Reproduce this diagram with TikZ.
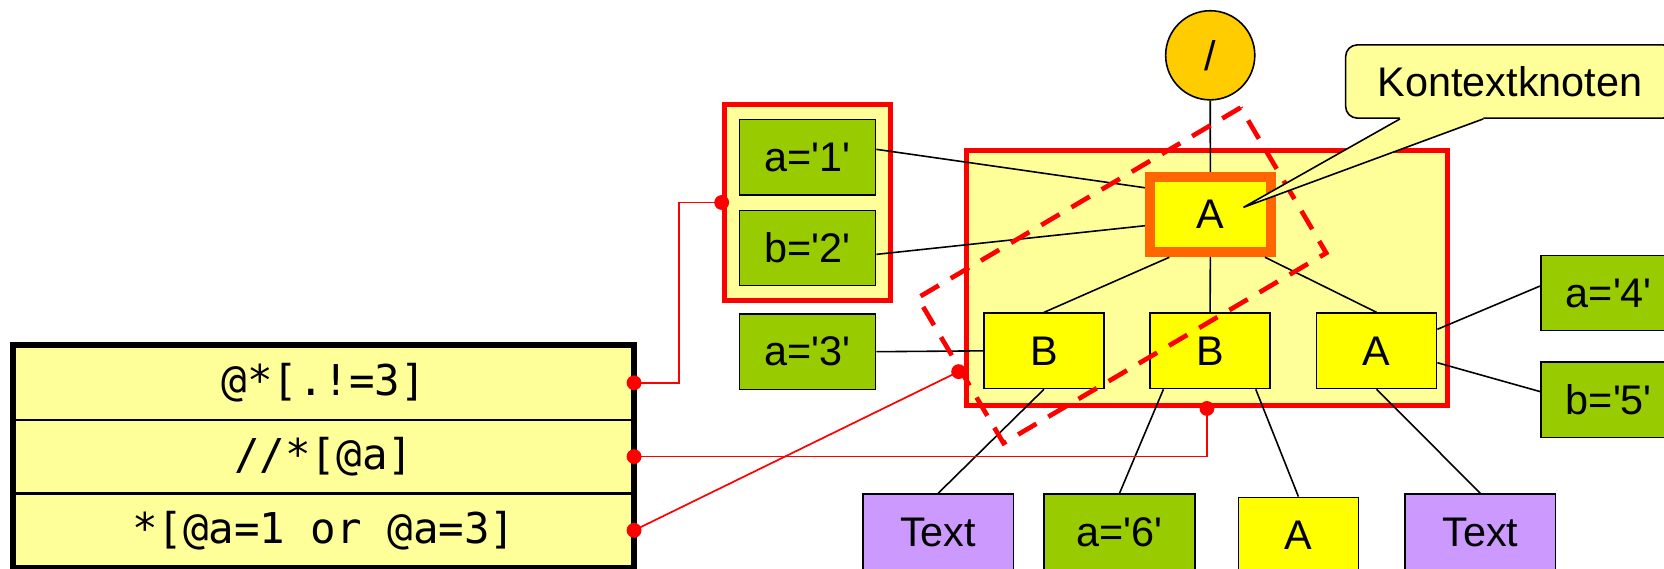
\documentclass[tikz,border=0pt]{standalone}
\usepackage{fontspec}
\newfontfamily\labelfont{Liberation Sans}
\newfontfamily\codefont{DejaVu Sans Mono}
\usepackage{tikz}

\definecolor{paleyellow}{HTML}{FFFF99}
\definecolor{attrgreen}{HTML}{99CC00}
\definecolor{elemyellow}{HTML}{FFFF00}
\definecolor{textlilac}{HTML}{CC99FF}
\definecolor{rootgold}{HTML}{FFCC00}
\definecolor{ctxorange}{HTML}{FF6600}

\begin{document}
\begin{tikzpicture}[x=1pt, y=1pt,
  every node/.style={font=\labelfont\fontsize{39}{47}\selectfont, inner sep=0pt},
  elem/.style={draw, line width=1.5pt, fill=elemyellow, minimum width=113pt, minimum height=71pt},
  attr/.style={draw, line width=1.5pt, fill=attrgreen, minimum width=128pt, minimum height=71pt},
  txt/.style={draw, line width=1.5pt, fill=textlilac, minimum width=142pt, minimum height=72pt},
  hit/.style={draw=red, line width=4.7pt, fill=paleyellow},
  edge/.style={line width=1.5pt},
  link/.style={draw=red, line width=1.6pt},
  query/.style={draw, line width=2pt, fill=paleyellow, minimum width=583pt, minimum height=69.5pt,
    font=\codefont\fontsize{40}{48}\selectfont}]
\def \rowh {69.5}

\useasboundingbox (0,0) rectangle (1568,-536);

% matched areas
\node[hit, minimum width=452.6pt, minimum height=240.7pt] (area) at (1137.3,-262.2) {};
\node[hit, minimum width=157pt, minimum height=184pt] (grp) at (760.9,-190.8) {};

% tree
\node[circle, draw, line width=1.5pt, fill=rootgold, minimum size=84pt] (root) at (1140.4,-52.1) {/};
\node[elem, draw=ctxorange, line width=9.4pt, outer sep=4.7pt, minimum width=114pt] (ctx) at (1140.5,-202.2) {A};
\node[elem] (b1) at (983.7,-330.6) {B};
\node[elem] (b2) at (1140.3,-330.6) {B};
\node[elem] (a2) at (1297.2,-330.6) {A};

\node[attr] (att1) at (761,-148.1) {a='1'};
\node[attr] (att2) at (761,-233.7) {b='2'};
\node[attr] (att3) at (761,-331.4) {a='3'};
\node[attr] (att4) at (1516,-276.1) {a='4'};
\node[attr] (att5) at (1516,-376.6) {b='5'};

\node[txt] (t1) at (884,-501.6) {Text};
\node[attr, minimum width=142pt, minimum height=72pt] (att6) at (1054.9,-501.6) {a='6'};
\node[elem, minimum height=72pt] (a3) at (1223.5,-504.7) {A};
\node[txt] (t2) at (1394.9,-501.6) {Text};

\draw[edge] (root) -- (ctx);
\draw[edge] ([xshift=-38.6pt]ctx.south) -- (b1.north);
\draw[edge] (ctx.south) -- (b2.north);
\draw[edge] ([xshift=51.5pt]ctx.south) -- (a2.north);
\draw[edge] ([yshift=7.4pt]att1.east) -- ([yshift=25.3pt]ctx.west);
\draw[edge] ([yshift=-6pt]att2.east) -- ([yshift=-10.5pt]ctx.west);
\draw[edge] (att3.east) -- (b1.west);
\draw[edge] ([yshift=20.3pt]a2.east) -- ([yshift=6.6pt]att4.west);
\draw[edge] ([yshift=-11.2pt]a2.east) -- ([yshift=7.6pt]att5.west);
\draw[edge] (b1.south) -- (t1.north);
\draw[edge] ([xshift=-44pt]b2.south) -- (att6.north);
\draw[edge] ([xshift=43pt]b2.south) -- (a3.north);
\draw[edge] (a2.south) -- (t2.north);

% selected node set
\node[draw=red, line width=4.4pt, dash pattern=on 20pt off 13pt, rotate=30.5,
  minimum width=353pt, minimum height=159pt] (sel) at (1057.3,-259.5) {};

% callout
\node[draw, line width=1.5pt, fill=paleyellow, rounded corners=11pt, minimum width=310pt,
  minimum height=69pt] (note) at (1423,-76.8) {Kontextknoten};
\coordinate (tip) at ([shift={(31.2pt,6.8pt)}]ctx.center);
\coordinate (base1) at ([xshift=-103.8pt]note.south);
\coordinate (base2) at ([xshift=-25.3pt]note.south);
\fill[paleyellow] (base1) -- (tip) -- (base2) -- ([yshift=2pt]base2) -- ([yshift=2pt]base1) -- cycle;
\draw[line width=1.5pt] (base1) -- (tip) (base2) -- (tip);

% queries
\foreach \code [count=\i] in {{@*[.!=3]}, {//*[@a]}, {*[@a=1 or @a=3]}}
{
  \node[query] (q\i) at (305, {-360.75-\rowh*(\i-1)}) {\code};
}
\draw[line width=5.5pt] (q1.north west) rectangle (q3.south east);

\draw[link] (q1.east) -- ++(42.2,0) |- (grp.west);
\draw[link] (q2.east) -| (area.south);
\draw[link] (q3.east) -- (sel.west);
\foreach \p in {q1.east, grp.west, q2.east, area.south, q3.east, sel.west}
{
  \fill[red] (\p) circle (7pt);
}
\end{tikzpicture}
\end{document}
